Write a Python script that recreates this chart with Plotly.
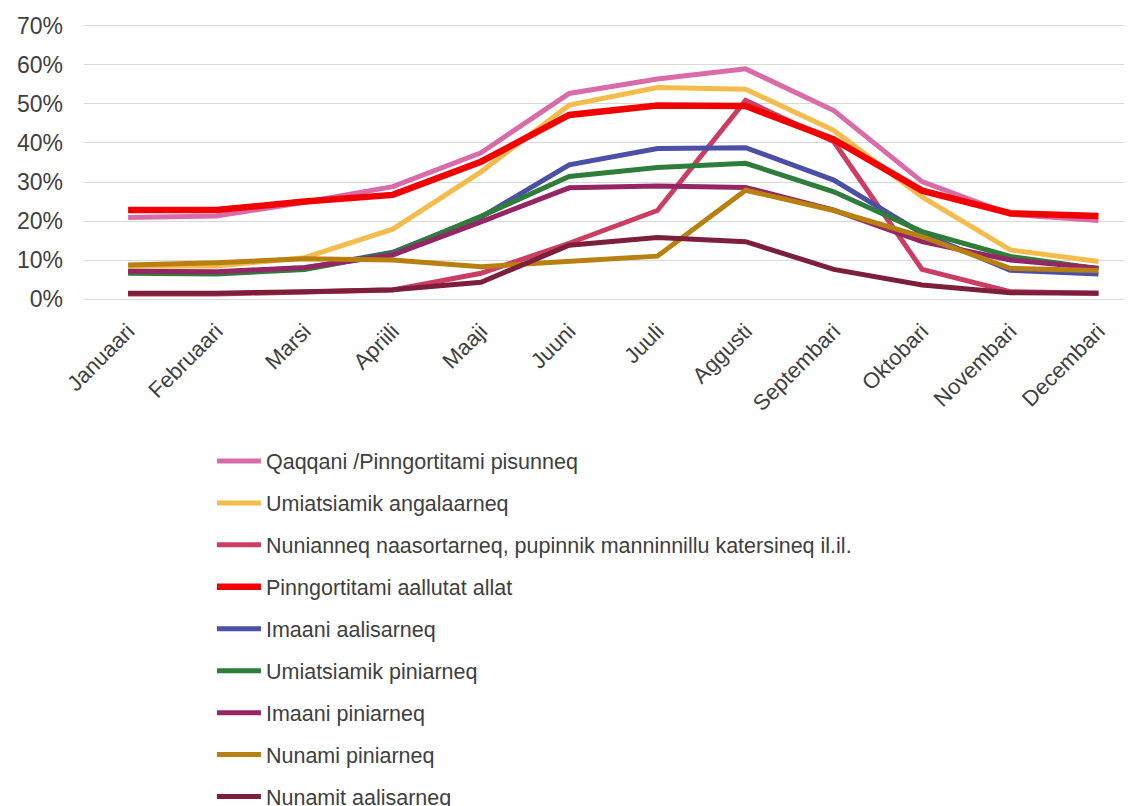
"""Andel af turister pr. måned fordelt på aktivitet (linjediagram)."""

import plotly.graph_objects as go

MONTHS = ["Januaari", "Februaari", "Marsi", "Apriili", "Maaji", "Juuni", "Juuli",
          "Aggusti", "Septembari", "Oktobari", "Novembari", "Decembari"]

QAQQANI = [20.9, 21.3, 24.8, 28.8, 37.5, 52.7, 56.4, 59.0, 48.3, 30.1, 21.7, 20.1]
UMIATSIAMIK_ANGALAARNEQ = [8.4, 8.5, 10.6, 17.9, 32.6, 49.7, 54.2, 53.8, 43.2, 26.2, 12.6, 9.6]
NUNIANNEQ = [1.3, 1.3, 1.8, 2.3, 6.6, 14.3, 22.7, 50.9, 40.3, 7.6, 1.9, 1.5]
PINNGORTITAMI = [22.8, 22.8, 25.0, 26.7, 35.2, 47.2, 49.6, 49.5, 40.9, 27.8, 22.0, 21.3]
IMAANI_AALISARNEQ = [7.0, 6.8, 7.9, 12.0, 21.0, 34.4, 38.6, 38.8, 30.5, 16.8, 7.4, 6.4]
UMIATSIAMIK_PINIARNEQ = [6.6, 6.4, 7.6, 11.8, 21.2, 31.4, 33.7, 34.8, 27.5, 17.3, 10.9, 7.8]
IMAANI_PINIARNEQ = [7.1, 7.0, 8.1, 11.3, 19.8, 28.5, 29.0, 28.6, 22.8, 14.7, 10.0, 7.9]
NUNAMI_PINIARNEQ = [8.7, 9.3, 10.3, 10.0, 8.3, 9.6, 11.0, 27.9, 22.7, 16.0, 7.9, 7.3]
NUNAMIT_AALISARNEQ = [1.5, 1.5, 1.9, 2.4, 4.3, 13.8, 15.8, 14.7, 7.6, 3.6, 1.6, 1.5]

SERIES = [
    ("Qaqqani /Pinngortitami pisunneq", QAQQANI, "#d96ba8", 5),
    ("Umiatsiamik angalaarneq", UMIATSIAMIK_ANGALAARNEQ, "#f4bc4c", 5),
    ("Nunianneq naasortarneq, pupinnik manninnillu katersineq il.il.", NUNIANNEQ, "#cc3d63", 5),
    ("Pinngortitami aallutat allat", PINNGORTITAMI, "#f20000", 6.5),
    ("Imaani aalisarneq", IMAANI_AALISARNEQ, "#4b4fa5", 5),
    ("Umiatsiamik piniarneq", UMIATSIAMIK_PINIARNEQ, "#2e7d3a", 5),
    ("Imaani piniarneq", IMAANI_PINIARNEQ, "#952666", 5),
    ("Nunami piniarneq", NUNAMI_PINIARNEQ, "#b8810f", 5),
    ("Nunamit aalisarneq", NUNAMIT_AALISARNEQ, "#7c1f3a", 5),
]

FONT = "Liberation Sans, Arial, sans-serif"
TEXT_COLOR = "#404040"

fig = go.Figure()
for name, values, color, width in SERIES:
    fig.add_trace(go.Scatter(
        x=MONTHS,
        y=[v / 100 for v in values],
        name=name,
        legendgroup=name,
        mode="lines",
        line=dict(color=color, width=width),
    ))

# la page a une marge de 8 px autour du graphique -> figure un peu plus petite
fig.update_layout(
    width=1124,
    height=798,
    paper_bgcolor="white",
    plot_bgcolor="white",
    font=dict(family=FONT, size=21, color=TEXT_COLOR),
    margin=dict(l=76, r=0, t=16, b=505, autoexpand=False),
    showlegend=True,
    legend=dict(
        x=0.1221, xanchor="left",
        y=-0.5036, yanchor="top",
        traceorder="grouped",
        tracegroupgap=11,
        itemwidth=44,
        font=dict(size=21.5, color=TEXT_COLOR),
        bgcolor="rgba(0,0,0,0)",
    ),
)
fig.update_xaxes(
    type="category",
    range=[-0.5, 11.38],
    tickangle=-45,
    tickfont=dict(size=22),
    showgrid=False,
    showline=False,
    ticks="",
    ticklabelstandoff=12,
)
fig.update_yaxes(
    range=[-0.005, 0.705],
    tickvals=[0, 0.1, 0.2, 0.3, 0.4, 0.5, 0.6, 0.7],
    tickformat=".0%",
    tickfont=dict(size=23),
    showgrid=True,
    gridcolor="#d9d9d9",
    gridwidth=1.2,
    zeroline=False,
    showline=False,
    ticklabelstandoff=20,
)

fig.write_html("out.html")
